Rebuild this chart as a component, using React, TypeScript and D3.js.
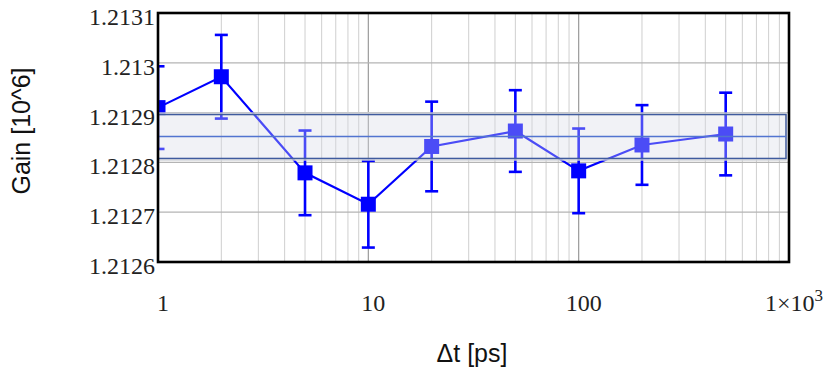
import React from 'react'
import * as d3 from 'd3'

// measured gain vs. time step
const dtValues = [1, 2, 5, 10, 20, 50, 100, 200, 500]
const gainValues = [1.21291, 1.212972, 1.212779, 1.212716, 1.212832, 1.212863, 1.212783, 1.212835, 1.212857]
const gainErrors = [0.000083, 0.000084, 0.000085, 0.000087, 0.00009, 0.000082, 0.000085, 0.00008, 0.000083]

// weighted mean and its uncertainty (the shaded band)
const meanGain = [1.212852]
const meanError = [0.000044]

const yTicks = [1.2126, 1.2127, 1.2128, 1.2129, 1.213, 1.2131]
const yTickLabels = ['1.2126', '1.2127', '1.2128', '1.2129', '1.213', '1.2131']
const xTicks = [1, 10, 100, 1000]
const xTickLabels = ['1', '10', '100', '1×10']

const width = 830
const height = 375
const margin = { left: 158, right: 41, top: 13, bottom: 113 }

const serif = { fontFamily: '"Liberation Serif", "Times New Roman", Times, serif' }
const sans = { fontFamily: '"Liberation Sans", Arial, Helvetica, sans-serif' }

export default function App() {
  const x = d3.scaleLog()
    .domain([1, 1000])
    .range([margin.left, width - margin.right])
  const y = d3.scaleLinear()
    .domain([1.2126, 1.2131])
    .range([height - margin.bottom, margin.top])

  // minor log grid: 2..9 of each decade
  const minor: number[] = []
  for (const dec of [1, 10, 100]) {
    for (let k = 2; k <= 9; k++) minor.push(dec * k)
  }

  const pts = dtValues.map((d, i) => ({ dt: d, g: gainValues[i], e: gainErrors[i] }))

  const line = d3.line<{ dt: number, g: number }>()
    .x(d => x(d.dt))
    .y(d => y(d.g))

  const x0 = margin.left
  const x1 = width - margin.right
  const y0 = margin.top
  const y1 = height - margin.bottom
  const blue = '#0000ff'
  const bandTop = y(meanGain[0] + meanError[0])
  const bandBot = y(meanGain[0] - meanError[0])

  return (
    <svg width={width} height={height} style={{ position: 'absolute', left: 0, top: 0, background: '#fff' }}>
      <defs>
        <clipPath id="plotClip">
          <rect x={x0} y={y0} width={x1 - x0} height={y1 - y0} />
        </clipPath>
      </defs>

      {/* grid */}
      <g>
        {minor.map(v => (
          <line key={'m' + v} x1={x(v)} x2={x(v)} y1={y0} y2={y1} stroke="#cfcfcf" strokeWidth={1} />
        ))}
        {[10, 100].map(v => (
          <line key={'M' + v} x1={x(v)} x2={x(v)} y1={y0} y2={y1} stroke="#9a9a9a" strokeWidth={1.2} />
        ))}
        {yTicks.slice(1, -1).map(v => (
          <line key={'h' + v} x1={x0} x2={x1} y1={y(v)} y2={y(v)} stroke="#b4b4b4" strokeWidth={1.2} />
        ))}
      </g>

      {/* data */}
      <g clipPath="url(#plotClip)">
        <path d={line(pts) || ''} fill="none" stroke={blue} strokeWidth={2.2} />
        {pts.map((p, i) => (
          <g key={i} stroke={blue} strokeWidth={2.6}>
            <line x1={x(p.dt)} x2={x(p.dt)} y1={y(p.g - p.e)} y2={y(p.g + p.e)} />
            <line x1={x(p.dt) - 6.5} x2={x(p.dt) + 6.5} y1={y(p.g + p.e)} y2={y(p.g + p.e)} />
            <line x1={x(p.dt) - 6.5} x2={x(p.dt) + 6.5} y1={y(p.g - p.e)} y2={y(p.g - p.e)} />
            <rect x={x(p.dt) - 7.5} y={y(p.g) - 7.5} width={15} height={15} fill={blue} stroke="none" />
          </g>
        ))}
      </g>

      {/* mean band drawn over the data */}
      <g>
        <rect x={x0} y={bandTop - 1.5} width={x1 - x0 - 3} height={bandBot - bandTop + 3}
          fill="none" stroke="#cdd0d6" strokeWidth={1.5} />
        <rect x={x0} y={bandTop} width={x1 - x0 - 3} height={bandBot - bandTop}
          fill="rgb(214,218,230)" fillOpacity={0.35} stroke="#3f5b9e" strokeWidth={1.4} />
        <line x1={x0} x2={x1 - 3} y1={y(meanGain[0])} y2={y(meanGain[0])} stroke="#5274d0" strokeWidth={1.6} />
      </g>

      {/* frame */}
      <rect x={x0} y={y0} width={x1 - x0} height={y1 - y0} fill="none" stroke="#000" strokeWidth={2.6} />

      {/* tick labels */}
      <g fill="#222" fontSize={24} style={serif}>
        {yTicks.map((v, i) => (
          <text key={v} x={x0 - 3} y={y(v) + 12} textAnchor="end" style={serif}>{yTickLabels[i]}</text>
        ))}
        {xTicks.map((v, i) => (
          <text key={v} x={x(v) + 5} y={311} textAnchor="middle" style={serif}>
            {xTickLabels[i]}
            {v === 1000 ? <tspan dy={-10} fontSize={17}>3</tspan> : null}
          </text>
        ))}
      </g>

      {/* axis titles */}
      <text x={472} y={362} textAnchor="middle" fontSize={25} fill="#111" style={sans}>Δt [ps]</text>
      <text transform="translate(30,131) rotate(-90)" textAnchor="middle" fontSize={25} fill="#111" style={sans}>Gain [10^6]</text>
    </svg>
  )
}
